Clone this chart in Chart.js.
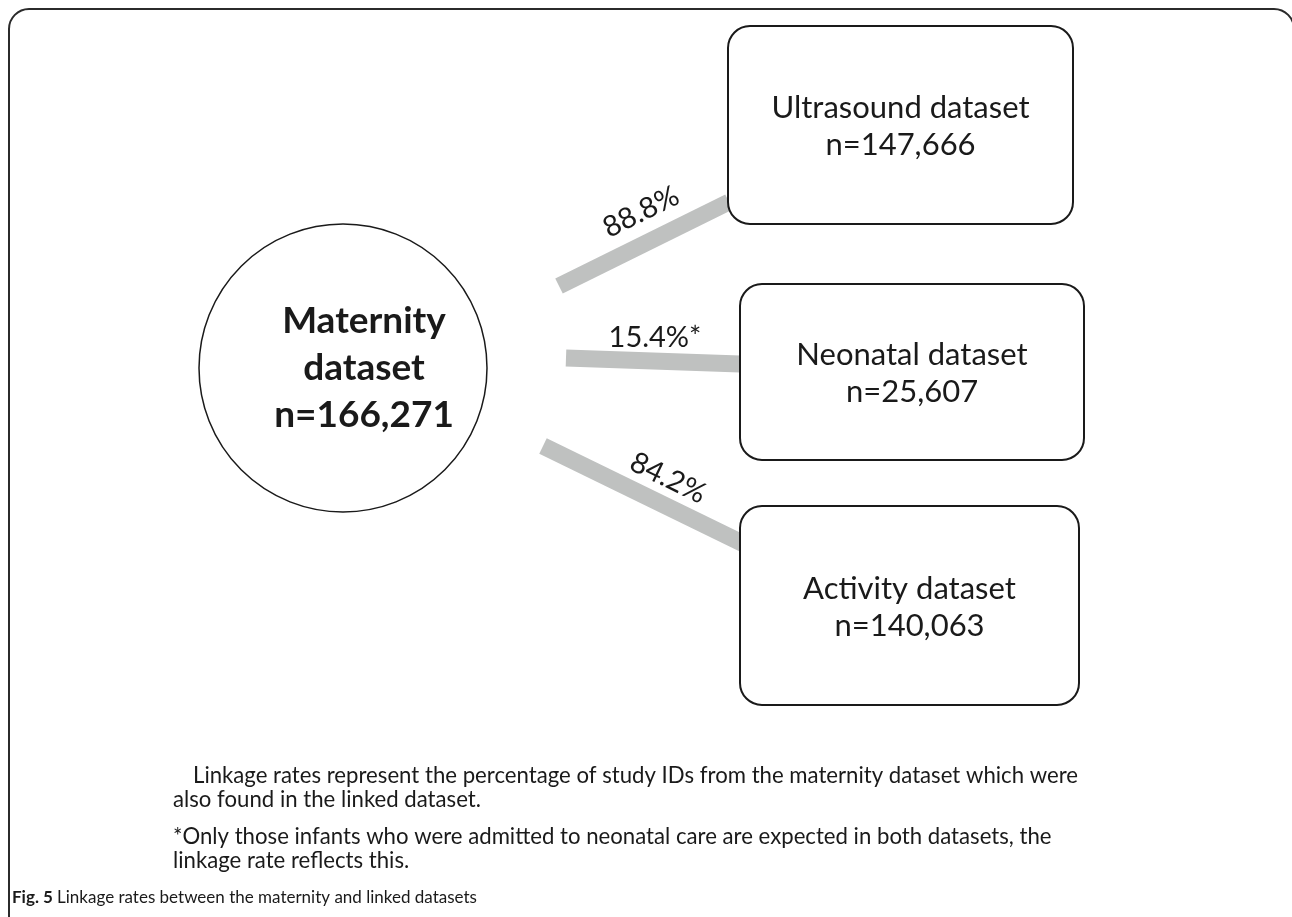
<!DOCTYPE html>
<html>
<head>
<meta charset="utf-8">
<script src="https://cdn.jsdelivr.net/npm/chart.js@4.4.1/dist/chart.umd.min.js"></script>
<style>
  html, body { margin: 0; padding: 0; background: #ffffff; }
  #wrap { width: 1292px; height: 917px; position: relative; }
</style>
</head>
<body>
<div id="wrap"><canvas id="c" width="1292" height="917"></canvas></div>
<script>
// ---------- DATA ----------
const sourceName = ['Maternity', 'dataset'];
const sourceCount = 166271;
const linkedNames = ['Ultrasound dataset', 'Neonatal dataset', 'Activity dataset'];
const linkedCounts = [147666, 25607, 140063];
const linkageRates = [88.8, 15.4, 84.2];
const linkageMarks = ['', '*', ''];
const noteLines = [
  'Linkage rates represent the percentage of study IDs from the maternity dataset which were',
  'also found in the linked dataset.',
  '*Only those infants who were admitted to neonatal care are expected in both datasets, the',
  'linkage rate reflects this.'
];
const figLabel = 'Fig. 5';
const figCaption = 'Linkage rates between the maternity and linked datasets';

// ---------- LAYOUT (positions / sizes in diagram units) ----------
const FONT = 'Lato, "Open Sans", sans-serif';
const layout = {
  circle: { x: 343, y: 368, r: 144, textX: 364 },
  boxes: [
    { x0: 728, y0: 26, x1: 1073, y1: 224 },
    { x0: 740, y0: 284, x1: 1084, y1: 460 },
    { x0: 740, y0: 506, x1: 1079, y1: 705 }
  ],
  links: [
    { from: [559, 286], to: [729, 202], label: [641, 212], angle: -26.3 },
    { from: [566, 358], to: [740, 364], label: [655, 338], angle: 0 },
    { from: [543, 446], to: [746, 545], label: [668, 478], angle: 26.0 }
  ],
  notes: [
    { x: 193, y: 783 },
    { x: 173, y: 807 },
    { x: 173, y: 844 },
    { x: 173, y: 868 }
  ],
  noteFirstWidth: 885,
  fig: { x: 12, y: 903 }
};

const fmt = n => n.toLocaleString('en-US');

// Link line datasets (endpoints from layout, drawn through the scales)
const linkDatasets = layout.links.map((l, i) => ({
  type: 'line',
  label: linkedNames[i] + ' ' + linkageRates[i] + '%',
  data: [{ x: l.from[0], y: l.from[1] }, { x: l.to[0], y: l.to[1] }],
  borderColor: '#bfc1c0',
  borderWidth: 17,
  borderCapStyle: 'butt',
  pointRadius: 0,
  showLine: true,
  order: 2
}));

const diagramPlugin = {
  id: 'diagram',
  beforeDatasetsDraw(chart) {
    const { ctx, scales: { x, y } } = chart;
    ctx.save();
    ctx.strokeStyle = '#2b2b2b';
    ctx.lineWidth = 2;
    const fx0 = x.getPixelForValue(9), fy0 = y.getPixelForValue(9);
    const fx1 = x.getPixelForValue(1294), fyb = y.getPixelForValue(930);
    const rr = 20;
    ctx.beginPath();
    ctx.moveTo(fx0, fyb);
    ctx.lineTo(fx0, fy0 + rr);
    ctx.arcTo(fx0, fy0, fx0 + rr, fy0, rr);
    ctx.lineTo(fx1 - rr, fy0);
    ctx.arcTo(fx1, fy0, fx1, fy0 + rr, rr);
    ctx.lineTo(fx1, fyb);
    ctx.stroke();
    ctx.restore();
  },
  afterDatasetsDraw(chart) {
    const { ctx, scales: { x, y } } = chart;
    ctx.save();
    // circle
    const c = layout.circle;
    const cx = x.getPixelForValue(c.x), cy = y.getPixelForValue(c.y);
    const cr = Math.abs(x.getPixelForValue(c.x + c.r) - cx);
    ctx.beginPath();
    ctx.arc(cx, cy, cr, 0, Math.PI * 2);
    ctx.strokeStyle = '#1a1a1a';
    ctx.lineWidth = 1.5;
    ctx.stroke();
    ctx.fillStyle = '#1a1a1a';
    ctx.textAlign = 'center';
    ctx.textBaseline = 'alphabetic';
    ctx.font = 'bold 37px ' + FONT;
    const tx = x.getPixelForValue(c.textX);
    const srcLines = [sourceName[0], sourceName[1], 'n=' + fmt(sourceCount)];
    srcLines.forEach((t, i) => ctx.fillText(t, tx, cy - 35 + i * 47));

    // boxes
    layout.boxes.forEach((b, i) => {
      const bx0 = x.getPixelForValue(b.x0), by0 = y.getPixelForValue(b.y0);
      const bx1 = x.getPixelForValue(b.x1), by1 = y.getPixelForValue(b.y1);
      ctx.beginPath();
      ctx.roundRect(bx0, by0, bx1 - bx0, by1 - by0, 22);
      ctx.fillStyle = '#ffffff';
      ctx.fill();
      ctx.strokeStyle = '#1a1a1a';
      ctx.lineWidth = 2;
      ctx.stroke();
      ctx.fillStyle = '#1a1a1a';
      ctx.font = '31px ' + FONT;
      const mx = (bx0 + bx1) / 2, my = (by0 + by1) / 2;
      ctx.fillText(linkedNames[i], mx, my - 7);
      ctx.fillText('n=' + fmt(linkedCounts[i]), mx, my + 30);
    });

    // link labels
    layout.links.forEach((l, i) => {
      ctx.save();
      ctx.translate(x.getPixelForValue(l.label[0]), y.getPixelForValue(l.label[1]));
      ctx.rotate(l.angle * Math.PI / 180);
      ctx.font = '29px ' + FONT;
      ctx.textBaseline = 'middle';
      ctx.fillStyle = '#1a1a1a';
      ctx.fillText(linkageRates[i].toFixed(1) + '%' + linkageMarks[i], 0, 0);
      ctx.restore();
    });

    // notes (uniformly condensed, like the original narrow face)
    ctx.textAlign = 'left';
    ctx.font = '23px ' + FONT;
    ctx.fillStyle = '#1a1a1a';
    const sx = Math.min(1, layout.noteFirstWidth / ctx.measureText(noteLines[0]).width);
    layout.notes.forEach((n, i) => {
      ctx.save();
      ctx.translate(x.getPixelForValue(n.x), y.getPixelForValue(n.y));
      ctx.scale(sx, 1);
      ctx.fillText(noteLines[i], 0, 0);
      ctx.restore();
    });

    // figure caption
    const fx = x.getPixelForValue(layout.fig.x), fy = y.getPixelForValue(layout.fig.y);
    ctx.font = 'bold 17px ' + FONT;
    ctx.fillStyle = '#1a1a1a';
    ctx.fillText(figLabel, fx, fy);
    const w = ctx.measureText(figLabel + ' ').width;
    ctx.font = '17px ' + FONT;
    ctx.fillText(figCaption, fx + w, fy);
    ctx.restore();
  }
};

new Chart(document.getElementById('c'), {
  type: 'scatter',
  data: { datasets: linkDatasets },
  options: {
    responsive: false,
    animation: false,
    events: [],
    layout: { padding: 0 },
    plugins: { legend: { display: false }, tooltip: { enabled: false }, title: { display: false } },
    scales: {
      x: { type: 'linear', min: 0, max: 1292, display: false },
      y: { type: 'linear', min: 0, max: 917, reverse: true, display: false }
    }
  },
  plugins: [diagramPlugin]
});
</script>
</body>
</html>
